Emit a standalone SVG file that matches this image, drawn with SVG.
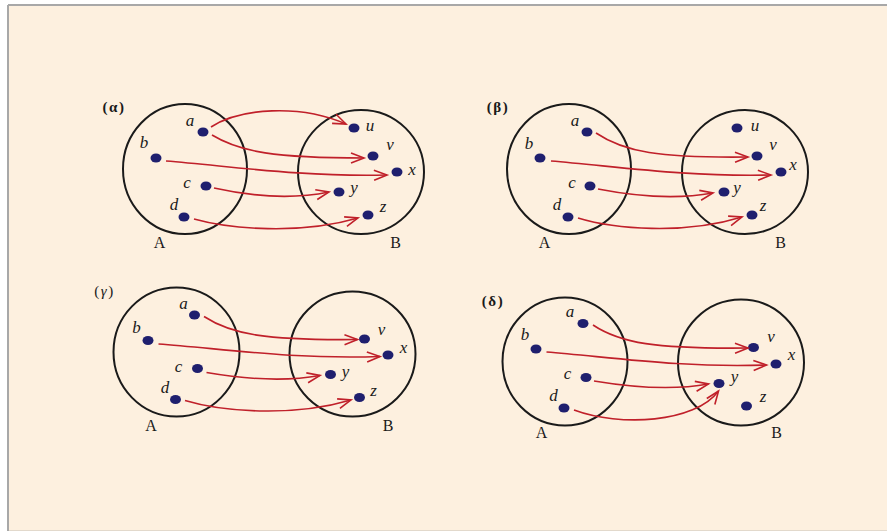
<svg xmlns="http://www.w3.org/2000/svg" width="887" height="531" viewBox="0 0 887 531">
<style>
.set{fill:none;stroke:#1a1a1a;stroke-width:2}
.dot{fill:#1f1f6e}
.arr{fill:none;stroke:#c0202a;stroke-width:1.6;marker-end:url(#ah)}
.el{font-family:"Liberation Serif",serif;font-style:italic;font-size:17px;fill:#1a1a1a;text-anchor:middle}
.setlbl{font-family:"Liberation Serif",serif;font-size:16px;fill:#1a1a1a;text-anchor:middle;letter-spacing:1px}
.pl{font-family:"Liberation Serif",serif;font-weight:bold;font-size:15px;fill:#1a1a1a;text-anchor:middle;letter-spacing:1.5px}
</style>
<defs>
<marker id="ah" markerUnits="userSpaceOnUse" markerWidth="20" markerHeight="20" viewBox="-16 -10 20 20" refX="0" refY="0" orient="auto">
<path d="M-13,-5 L0,0 L-13,5" fill="none" stroke="#c0202a" stroke-width="1.6"/>
</marker>
</defs>
<rect x="0" y="0" width="887" height="531" fill="#ffffff"/>
<rect x="8" y="5" width="879" height="525" fill="#fdf0df"/>
<line x1="8" y1="5" x2="887" y2="5" stroke="#a8a8a8" stroke-width="2"/>
<line x1="8" y1="5" x2="8" y2="531" stroke="#a8a8a8" stroke-width="2"/>
<line x1="9" y1="530.5" x2="887" y2="530.5" stroke="#e2d9cc" stroke-width="1"/>

<!-- Panel alpha -->
<g id="panel-alpha">
<text class="pl" x="114" y="112">(α)</text>
<g id="alpha-A"><ellipse class="set" cx="185" cy="169" rx="62" ry="65"/><text class="setlbl" x="160" y="248">A</text></g>
<g id="alpha-B"><ellipse class="set" cx="361" cy="172" rx="63" ry="62"/><text class="setlbl" x="396" y="248">B</text></g>
<g id="alpha-a"><ellipse class="dot" cx="203" cy="132" rx="5.5" ry="4.5"/><text class="el" x="190" y="126">a</text></g>
<g id="alpha-b"><ellipse class="dot" cx="156" cy="158" rx="5.5" ry="4.5"/><text class="el" x="144" y="148">b</text></g>
<g id="alpha-c"><ellipse class="dot" cx="206" cy="186" rx="5.5" ry="4.5"/><text class="el" x="187" y="188">c</text></g>
<g id="alpha-d"><ellipse class="dot" cx="184" cy="217" rx="5.5" ry="4.5"/><text class="el" x="174" y="210">d</text></g>
<g id="alpha-u"><ellipse class="dot" cx="354" cy="128" rx="5.5" ry="4.5"/><text class="el" x="370" y="131">u</text></g>
<g id="alpha-v"><ellipse class="dot" cx="373" cy="156" rx="5.5" ry="4.5"/><text class="el" x="390" y="150">v</text></g>
<g id="alpha-x"><ellipse class="dot" cx="397" cy="172" rx="5.5" ry="4.5"/><text class="el" x="412" y="175">x</text></g>
<g id="alpha-y"><ellipse class="dot" cx="339" cy="192" rx="5.5" ry="4.5"/><text class="el" x="354" y="193">y</text></g>
<g id="alpha-z"><ellipse class="dot" cx="368" cy="215" rx="5.5" ry="4.5"/><text class="el" x="383" y="212">z</text></g>
<g id="alpha-connectors">
<path class="arr" d="M211,127 C240,108 300,104 346,124"/>
<path class="arr" d="M212,135 C240,152 275,158 364,158"/>
<path class="arr" d="M166,161 C230,166 300,177 387,175"/>
<path class="arr" d="M214,188 C250,196 290,200 329,192"/>
<path class="arr" d="M194,219 C230,229 300,235 358,218"/>
</g>
</g>

<!-- Panel beta -->
<g id="panel-beta" transform="translate(384,0)">
<text class="pl" x="114" y="112">(β)</text>
<g id="beta-A"><ellipse class="set" cx="185" cy="169" rx="62" ry="65"/><text class="setlbl" x="161" y="248">A</text></g>
<g id="beta-B"><ellipse class="set" cx="361" cy="172" rx="63" ry="62"/><text class="setlbl" x="397" y="248">B</text></g>
<g id="beta-a"><ellipse class="dot" cx="203" cy="132" rx="5.5" ry="4.5"/><text class="el" x="191" y="126">a</text></g>
<g id="beta-b"><ellipse class="dot" cx="156" cy="158" rx="5.5" ry="4.5"/><text class="el" x="145" y="149">b</text></g>
<g id="beta-c"><ellipse class="dot" cx="206" cy="186" rx="5.5" ry="4.5"/><text class="el" x="188" y="188">c</text></g>
<g id="beta-d"><ellipse class="dot" cx="184" cy="217" rx="5.5" ry="4.5"/><text class="el" x="173" y="210">d</text></g>
<g id="beta-u"><ellipse class="dot" cx="353" cy="128" rx="5.5" ry="4.5"/><text class="el" x="371" y="131">u</text></g>
<g id="beta-v"><ellipse class="dot" cx="373" cy="156" rx="5.5" ry="4.5"/><text class="el" x="389" y="150">v</text></g>
<g id="beta-x"><ellipse class="dot" cx="397" cy="172" rx="5.5" ry="4.5"/><text class="el" x="409" y="170">x</text></g>
<g id="beta-y"><ellipse class="dot" cx="340" cy="192" rx="5.5" ry="4.5"/><text class="el" x="353" y="193">y</text></g>
<g id="beta-z"><ellipse class="dot" cx="368" cy="215" rx="5.5" ry="4.5"/><text class="el" x="379" y="211">z</text></g>
<g id="beta-connectors">
<path class="arr" d="M212,133 C240,152 275,158 364,157"/>
<path class="arr" d="M167,161 C230,166 300,177 387,175"/>
<path class="arr" d="M214,189 C250,196 290,200 329,193"/>
<path class="arr" d="M194,218 C230,229 300,235 358,217"/>
</g>
</g>

<!-- Panel gamma -->
<g id="panel-gamma" transform="translate(-8.5,182.5)">
<text class="pl" x="113" y="113" style="font-weight:normal">(<tspan font-style="italic">γ</tspan>)</text>
<g id="gamma-A"><ellipse class="set" cx="185" cy="169.5" rx="63" ry="64.5"/><text class="setlbl" x="160" y="248">A</text></g>
<g id="gamma-B"><ellipse class="set" cx="361" cy="171.5" rx="63" ry="62.5"/><text class="setlbl" x="397" y="248">B</text></g>
<g id="gamma-a"><ellipse class="dot" cx="203" cy="132.5" rx="5.5" ry="4.5"/><text class="el" x="192" y="126">a</text></g>
<g id="gamma-b"><ellipse class="dot" cx="156.5" cy="158" rx="5.5" ry="4.5"/><text class="el" x="145" y="150">b</text></g>
<g id="gamma-c"><ellipse class="dot" cx="206" cy="186" rx="5.5" ry="4.5"/><text class="el" x="187" y="189">c</text></g>
<g id="gamma-d"><ellipse class="dot" cx="184" cy="217" rx="5.5" ry="4.5"/><text class="el" x="173.5" y="210">d</text></g>
<g id="gamma-v"><ellipse class="dot" cx="373" cy="156.5" rx="5.5" ry="4.5"/><text class="el" x="390" y="152">v</text></g>
<g id="gamma-x"><ellipse class="dot" cx="396.5" cy="172.5" rx="5.5" ry="4.5"/><text class="el" x="412" y="170">x</text></g>
<g id="gamma-y"><ellipse class="dot" cx="339" cy="192" rx="5.5" ry="4.5"/><text class="el" x="354" y="194">y</text></g>
<g id="gamma-z"><ellipse class="dot" cx="368" cy="215" rx="5.5" ry="4.5"/><text class="el" x="382" y="213">z</text></g>
<g id="gamma-connectors">
<path class="arr" d="M212.5,134 C240,152 275,158 366,157"/>
<path class="arr" d="M167,161.5 C230,166 300,177 388.5,174"/>
<path class="arr" d="M215,190 C250,196 290,200 328.5,193"/>
<path class="arr" d="M193.5,218 C230,229 300,235 359.5,217.5"/>
</g>
</g>

<!-- Panel delta -->
<g id="panel-delta" transform="translate(380,191)">
<text class="pl" x="113" y="115">(δ)</text>
<g id="delta-A"><ellipse class="set" cx="185" cy="170.5" rx="62.5" ry="64"/><text class="setlbl" x="162" y="247">A</text></g>
<g id="delta-B"><ellipse class="set" cx="361" cy="171.5" rx="63" ry="63"/><text class="setlbl" x="397" y="247">B</text></g>
<g id="delta-a"><ellipse class="dot" cx="203" cy="132.5" rx="5.5" ry="4.5"/><text class="el" x="190" y="126">a</text></g>
<g id="delta-b"><ellipse class="dot" cx="156" cy="158" rx="5.5" ry="4.5"/><text class="el" x="145" y="149">b</text></g>
<g id="delta-c"><ellipse class="dot" cx="206" cy="186.5" rx="5.5" ry="4.5"/><text class="el" x="187.5" y="188">c</text></g>
<g id="delta-d"><ellipse class="dot" cx="184" cy="217" rx="5.5" ry="4.5"/><text class="el" x="173.5" y="210">d</text></g>
<g id="delta-v"><ellipse class="dot" cx="373.5" cy="156.5" rx="5.5" ry="4.5"/><text class="el" x="391" y="151">v</text></g>
<g id="delta-x"><ellipse class="dot" cx="396" cy="173" rx="5.5" ry="4.5"/><text class="el" x="411.5" y="169">x</text></g>
<g id="delta-y"><ellipse class="dot" cx="339" cy="192.5" rx="5.5" ry="4.5"/><text class="el" x="354.5" y="191">y</text></g>
<g id="delta-z"><ellipse class="dot" cx="366.5" cy="215" rx="5.5" ry="4.5"/><text class="el" x="383" y="211">z</text></g>
<g id="delta-connectors">
<path class="arr" d="M213,134 C240,152 275,158 368,157"/>
<path class="arr" d="M166.5,161 C230,166 300,177 386.5,174"/>
<path class="arr" d="M214,190 C250,196 290,200 328.5,193"/>
<path class="arr" d="M194,219 C240,236 315,232 338.5,200"/>
</g>
</g>
</svg>
